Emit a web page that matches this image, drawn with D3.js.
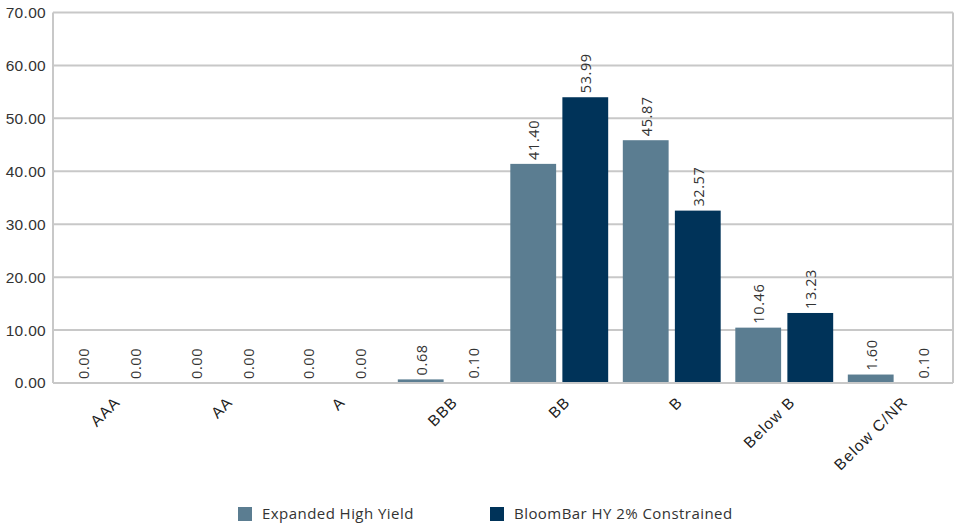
<!DOCTYPE html>
<html>
<head>
<meta charset="utf-8">
<script src="https://cdn.jsdelivr.net/npm/d3@7"></script>
<style>
  html, body { margin: 0; padding: 0; background: #fff; }
  svg { display: block; font-family: "Open Sans", "Lato", sans-serif; }
</style>
</head>
<body>
<svg id="chart" width="956" height="525"></svg>
<script>
const categories = ["AAA", "AA", "A", "BBB", "BB", "B", "Below B", "Below C/NR"];
const seriesNames = ["Expanded High Yield", "BloomBar HY 2% Constrained"];
const expandedHY = [0.00, 0.00, 0.00, 0.68, 41.40, 45.87, 10.46, 1.60];
const bloomBarHY = [0.00, 0.00, 0.00, 0.10, 53.99, 32.57, 13.23, 0.10];
const yTicks = [0, 10, 20, 30, 40, 50, 60, 70];
const colors = ["#5b7d91", "#003359"];

const svg = d3.select("#chart");
const margin = { left: 53, right: 3, top: 12.5, bottom: 142 };
const W = 956, H = 525;
const x0 = d3.scaleBand().domain(categories).range([margin.left, W - margin.right]).paddingInner(0.13).paddingOuter(0.065);
const x1 = d3.scaleBand().domain(seriesNames).range([0, x0.bandwidth()]).paddingInner(0.12);
const y = d3.scaleLinear().domain([0, 70]).range([H - margin.bottom, margin.top]);

const data = categories.map((c, i) => ({ cat: c, vals: [expandedHY[i], bloomBarHY[i]] }));

const grid = svg.append("g");
grid.selectAll("line").data(yTicks.filter(d => d !== 0)).join("line")
  .attr("x1", margin.left).attr("x2", W - margin.right)
  .attr("y1", d => y(d)).attr("y2", d => y(d))
  .attr("stroke", "#c8c8c8").attr("stroke-width", 2);
svg.append("line").attr("x1", margin.left).attr("x2", margin.left)
  .attr("y1", y(70)).attr("y2", y(0)).attr("stroke", "#c8c8c8").attr("stroke-width", 2);
svg.append("line").attr("x1", W - margin.right).attr("x2", W - margin.right)
  .attr("y1", y(70)).attr("y2", y(0)).attr("stroke", "#c8c8c8").attr("stroke-width", 2);

const yAxis = svg.append("g").attr("transform", `translate(${margin.left},0)`)
  .call(d3.axisLeft(y).tickValues(yTicks).tickFormat(d3.format(".2f")).tickSize(0).tickPadding(7));
yAxis.select(".domain").remove();
yAxis.selectAll("text").attr("font-size", 15.5).attr("fill", "#333").attr("letter-spacing", 0.3);

const groups = svg.append("g").selectAll("g").data(data).join("g")
  .attr("transform", d => `translate(${x0(d.cat)},0)`);
groups.selectAll("rect").data(d => d.vals.map((v, j) => ({ v, j }))).join("rect")
  .attr("x", d => x1(seriesNames[d.j]))
  .attr("width", x1.bandwidth())
  .attr("y", d => y(d.v))
  .attr("height", d => y(0) - y(d.v))
  .attr("fill", d => colors[d.j]);

svg.append("line").attr("x1", margin.left).attr("x2", W - margin.right)
  .attr("y1", y(0)).attr("y2", y(0)).attr("stroke", "#c8c8c8").attr("stroke-width", 2);

groups.selectAll("text").data(d => d.vals.map((v, j) => ({ v, j }))).join("text")
  .attr("transform", d => `translate(${x1(seriesNames[d.j]) + x1.bandwidth() / 2 + 1},${y(d.v) - 4}) rotate(-90)`)
  .attr("dy", "0.35em")
  .attr("text-anchor", "start")
  .attr("font-size", 14.5)
  .attr("letter-spacing", 0.6)
  .attr("fill", "#333")
  .text(d => d.v.toFixed(2));

const xAxis = svg.append("g").attr("transform", `translate(0,${y(0)})`)
  .call(d3.axisBottom(x0).tickSize(0).tickPadding(0));
xAxis.select(".domain").remove();
xAxis.selectAll("text")
  .attr("font-size", 15.5).attr("fill", "#222")
  .attr("letter-spacing", 1.2)
  .attr("text-anchor", "end")
  .attr("dy", null)
  .attr("y", 0)
  .attr("transform", "translate(12,20) rotate(-45)");

const legend = svg.append("g");
const legendX = [238, 490];
seriesNames.forEach((s, i) => {
  legend.append("rect").attr("x", legendX[i]).attr("y", 507).attr("width", 14).attr("height", 14).attr("fill", colors[i]);
  legend.append("text").attr("x", legendX[i] + 24).attr("y", 519).attr("font-size", 15).attr("letter-spacing", 0.45).attr("fill", "#333").text(s);
});
</script>
</body>
</html>
